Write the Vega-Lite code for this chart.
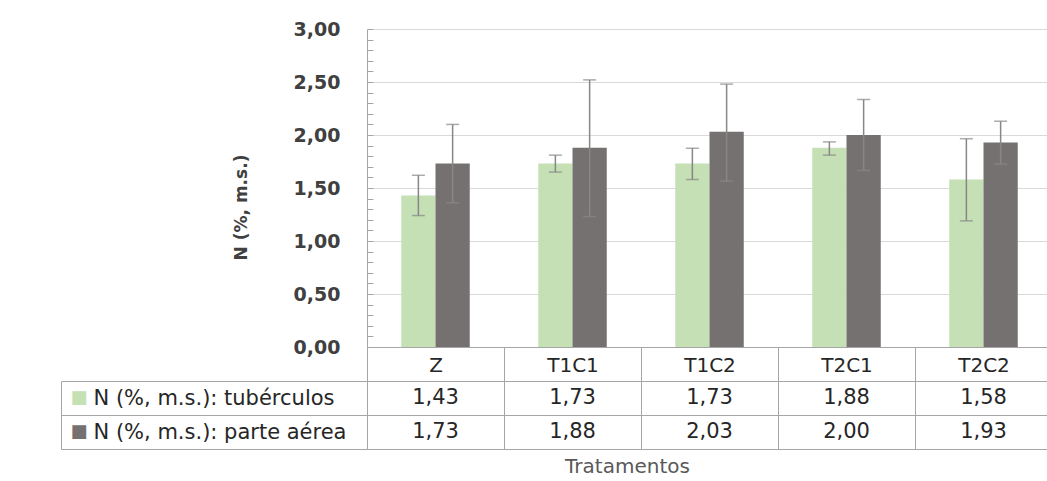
{
  "$schema": "https://vega.github.io/schema/vega-lite/v6.json",
  "background": "white",
  "padding": {"left": 60, "top": 20, "right": 0, "bottom": 0},
  "config": {
    "locale": {"number": {"decimal": ",", "thousands": ".", "grouping": [3], "currency": ["", ""]}},
    "view": {"stroke": null},
    "font": "DejaVu Sans"
  },
  "datasets": {
    "nitro": [
      {"trat": "Z", "serie": "N (%, m.s.): tubérculos", "valor": 1.43, "lo": 1.24, "hi": 1.62},
      {"trat": "Z", "serie": "N (%, m.s.): parte aérea", "valor": 1.73, "lo": 1.36, "hi": 2.10},
      {"trat": "T1C1", "serie": "N (%, m.s.): tubérculos", "valor": 1.73, "lo": 1.65, "hi": 1.81},
      {"trat": "T1C1", "serie": "N (%, m.s.): parte aérea", "valor": 1.88, "lo": 1.23, "hi": 2.52},
      {"trat": "T1C2", "serie": "N (%, m.s.): tubérculos", "valor": 1.73, "lo": 1.58, "hi": 1.875},
      {"trat": "T1C2", "serie": "N (%, m.s.): parte aérea", "valor": 2.03, "lo": 1.565, "hi": 2.48},
      {"trat": "T2C1", "serie": "N (%, m.s.): tubérculos", "valor": 1.88, "lo": 1.81, "hi": 1.935},
      {"trat": "T2C1", "serie": "N (%, m.s.): parte aérea", "valor": 2.00, "lo": 1.665, "hi": 2.335},
      {"trat": "T2C2", "serie": "N (%, m.s.): tubérculos", "valor": 1.58, "lo": 1.19, "hi": 1.965},
      {"trat": "T2C2", "serie": "N (%, m.s.): parte aérea", "valor": 1.93, "lo": 1.725, "hi": 2.13}
    ]
  },
  "spacing": 34,
  "bounds": "flush",
  "resolve": {
    "scale": {"x": "independent", "y": "independent"},
    "axis": {"x": "independent", "y": "independent"}
  },
  "vconcat": [
    {
      "width": 685,
      "height": 318,
      "data": {"name": "nitro"},
      "encoding": {
        "x": {
          "field": "trat",
          "type": "nominal",
          "sort": ["Z", "T1C1", "T1C2", "T2C1", "T2C2"],
          "title": null,
          "scale": {"paddingInner": 0, "paddingOuter": 0},
          "axis": {
            "orient": "bottom",
            "domainColor": "#a6a6a6",
            "tickBand": "extent",
            "tickSize": 34,
            "tickColor": "#a6a6a6",
            "labelFontSize": 20,
            "labelColor": "#262626",
            "labelAngle": 0,
            "labelPadding": -26,
            "grid": false
          }
        },
        "xOffset": {
          "field": "serie",
          "type": "nominal",
          "sort": ["N (%, m.s.): tubérculos", "N (%, m.s.): parte aérea"],
          "scale": {"paddingInner": 0, "paddingOuter": 1.05}
        }
      },
      "layer": [
        {
          "mark": {"type": "bar"},
          "encoding": {
            "y": {
              "field": "valor",
              "type": "quantitative",
              "scale": {"domain": [0, 3], "nice": false},
              "axis": {
                "orient": "left",
                "values": [0, 0.5, 1, 1.5, 2, 2.5, 3],
                "format": ".2f",
                "labelFontWeight": "bold",
                "labelFontSize": 19,
                "labelColor": "#404040",
                "labelPadding": 27,
                "ticks": false,
                "domain": true,
                "domainColor": "#a6a6a6",
                "grid": true,
                "gridColor": "#d9d9d9",
                "title": "N (%, m.s.)",
                "titleFontSize": 17,
                "titleFontWeight": "bold",
                "titleColor": "#404040",
                "titleAngle": 270,
                "titleX": -126,
                "titleY": 178,
                "titleAlign": "center",
                "titleBaseline": "middle"
              }
            },
            "color": {
              "field": "serie",
              "type": "nominal",
              "sort": ["N (%, m.s.): tubérculos", "N (%, m.s.): parte aérea"],
              "scale": {"range": ["#c5e0b4", "#767171"]},
              "legend": null
            }
          }
        },
        {
          "mark": {"type": "rule", "color": "#878787", "strokeWidth": 1.5},
          "encoding": {
            "y": {
              "field": "lo",
              "type": "quantitative",
              "axis": {
                "orient": "left",
                "values": [0, 0.1, 0.2, 0.3, 0.4, 0.5, 0.6, 0.7, 0.8, 0.9, 1, 1.1, 1.2, 1.3, 1.4, 1.5, 1.6, 1.7, 1.8, 1.9, 2, 2.1, 2.2, 2.3, 2.4, 2.5, 2.6, 2.7, 2.8, 2.9, 3],
                "labels": false,
                "grid": false,
                "domain": false,
                "ticks": true,
                "tickSize": -6,
                "tickColor": "#a6a6a6",
                "title": null
              }
            },
            "y2": {"field": "hi"}
          }
        },
        {
          "mark": {"type": "tick", "color": "#878787", "thickness": 1.5, "size": 13},
          "encoding": {"y": {"field": "lo", "type": "quantitative", "axis": null}}
        },
        {
          "mark": {"type": "tick", "color": "#878787", "thickness": 1.5, "size": 13},
          "encoding": {"y": {"field": "hi", "type": "quantitative", "axis": null}}
        }
      ],
      "resolve": {"axis": {"y": "independent"}}
    },
    {
      "width": 685,
      "height": 68,
      "data": {"name": "nitro"},
      "encoding": {
        "x": {
          "field": "trat",
          "type": "nominal",
          "sort": ["Z", "T1C1", "T1C2", "T2C1", "T2C2"],
          "title": "Tratamentos",
          "scale": {"paddingInner": 0, "paddingOuter": 0},
          "axis": {
            "labels": false,
            "ticks": false,
            "domain": false,
            "grid": true,
            "tickBand": "extent",
            "gridColor": "#a6a6a6",
            "titleFontSize": 20,
            "titleFontWeight": "normal",
            "titleColor": "#595959",
            "titleX": 260,
            "titleY": 17,
            "titleAlign": "center",
            "titleBaseline": "middle"
          }
        },
        "y": {
          "field": "serie",
          "type": "nominal",
          "sort": ["N (%, m.s.): tubérculos", "N (%, m.s.): parte aérea"],
          "title": null,
          "scale": {"paddingInner": 0, "paddingOuter": 0}
        }
      },
      "layer": [
        {
          "mark": {"type": "text", "fontSize": 21, "color": "#262626"},
          "encoding": {
            "text": {"field": "valor", "type": "quantitative", "format": ".2f"},
            "y": {
              "field": "serie",
              "type": "nominal",
              "sort": ["N (%, m.s.): tubérculos", "N (%, m.s.): parte aérea"],
              "title": null,
              "axis": {
                "orient": "left",
                "labelAlign": "left",
                "labelPadding": -32,
                "labelFontSize": 21,
                "labelColor": "#262626",
                "labelLimit": 400,
                "ticks": true,
                "tickBand": "extent",
                "tickSize": 306,
                "tickColor": "#a6a6a6",
                "grid": true,
                "gridColor": "#a6a6a6",
                "domain": true,
                "domainColor": "#a6a6a6"
              }
            }
          }
        },
        {
          "mark": {"type": "text", "text": ""},
          "encoding": {
            "y": {
              "field": "serie",
              "type": "nominal",
              "sort": ["N (%, m.s.): tubérculos", "N (%, m.s.): parte aérea"],
              "title": null,
              "axis": {
                "orient": "left",
                "offset": 306,
                "domain": true,
                "domainColor": "#a6a6a6",
                "ticks": false,
                "grid": false,
                "labelExpr": "'■'",
                "labelAlign": "left",
                "labelPadding": -9,
                "labelFontSize": 18,
                "labelColor": {"condition": {"test": "datum.value === 'N (%, m.s.): tubérculos'", "value": "#c5e0b4"}, "value": "#767171"}
              }
            }
          }
        }
      ],
      "resolve": {"axis": {"y": "independent"}}
    }
  ]
}
